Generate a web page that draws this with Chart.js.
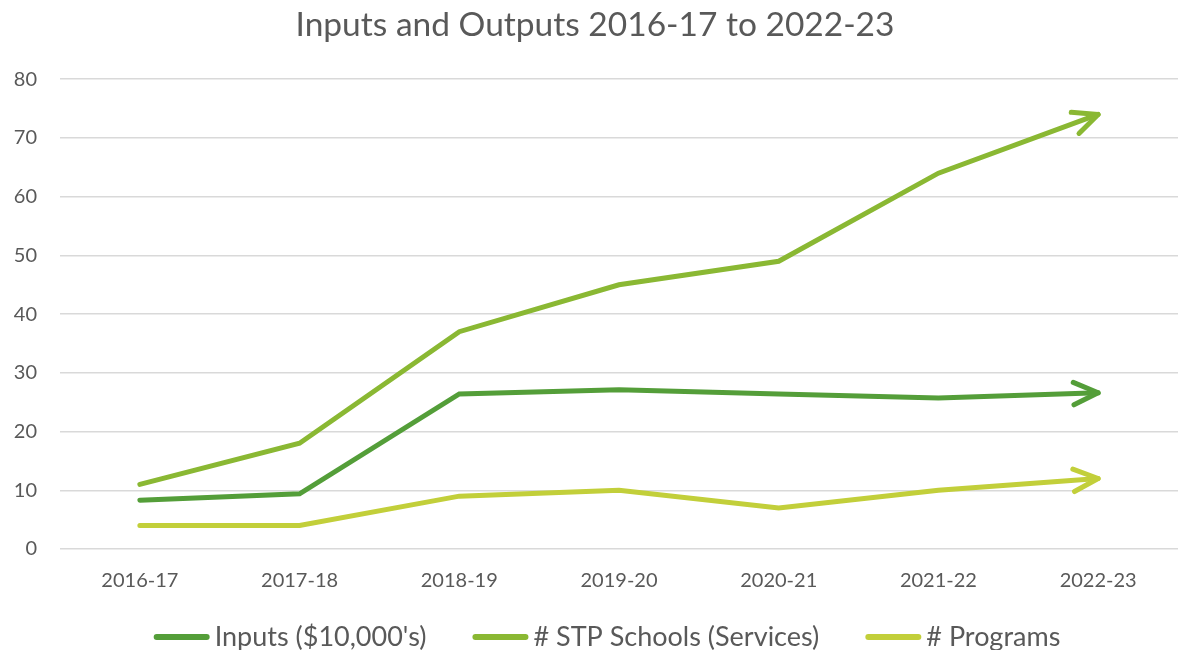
<!DOCTYPE html>
<html>
<head>
<meta charset="utf-8">
<script src="https://cdn.jsdelivr.net/npm/chart.js@4.4.0/dist/chart.umd.min.js"></script>
<style>
html,body{margin:0;padding:0;background:#fff;overflow:hidden;}
#wrap{width:1178px;height:650px;position:relative;}
</style>
</head>
<body>
<div id="wrap"><canvas id="c"></canvas></div>
<script>
const categories = ['2016-17','2017-18','2018-19','2019-20','2020-21','2021-22','2022-23'];
const inputs = [8.3, 9.4, 26.4, 27.1, 26.4, 25.7, 26.6];
const stpSchools = [11, 18, 37, 45, 49, 64, 74];
const programs = [4, 4, 9, 10, 7, 10, 12];
const seriesNames = ["Inputs ($10,000's)", '# STP Schools (Services)', '# Programs'];
const colors = ['#549E39', '#8AB833', '#C2CF3A'];
const yTicks = {min: 0, max: 80, step: 10};
const titleText = 'Inputs and Outputs 2016-17 to 2022-23';

const FONT = 'Lato, Calibri, sans-serif';
const TXT = '#595959';

const arrowPlugin = {
  id: 'arrows',
  afterDatasetsDraw(chart) {
    const ctx = chart.ctx;
    chart.data.datasets.forEach((ds, i) => {
      const pts = chart.getDatasetMeta(i).data;
      if (pts.length < 2) return;
      const a = pts[pts.length - 2], b = pts[pts.length - 1];
      const ang = Math.atan2(b.y - a.y, b.x - a.x);
      const len = 27, spread = 0.43;
      ctx.save();
      ctx.strokeStyle = ds.borderColor;
      ctx.lineWidth = 5;
      ctx.lineCap = 'round';
      ctx.lineJoin = 'round';
      ctx.beginPath();
      ctx.moveTo(b.x - len * Math.cos(ang - spread), b.y - len * Math.sin(ang - spread));
      ctx.lineTo(b.x, b.y);
      ctx.lineTo(b.x - len * Math.cos(ang + spread), b.y - len * Math.sin(ang + spread));
      ctx.stroke();
      ctx.restore();
    });
  }
};

// Bottom legend drawn in the style of the source (line swatch followed closely by the label)
const legendPlugin = {
  id: 'lineLegend',
  afterDraw(chart) {
    const ctx = chart.ctx;
    const sw = 56, swGap = 5, itemGap = 46, y = 637;
    ctx.save();
    ctx.font = '27px ' + FONT;
    ctx.textBaseline = 'middle';
    ctx.textAlign = 'left';
    const items = chart.data.datasets.map(ds => ({text: ds.label, color: ds.borderColor, w: ctx.measureText(ds.label).width}));
    const total = items.reduce((s, it) => s + sw + swGap + it.w, 0) + itemGap * (items.length - 1);
    let x = 607 - total / 2;
    items.forEach(it => {
      ctx.strokeStyle = it.color;
      ctx.lineWidth = 6;
      ctx.lineCap = 'round';
      ctx.beginPath();
      ctx.moveTo(x + 3, y);
      ctx.lineTo(x + sw - 3, y);
      ctx.stroke();
      ctx.fillStyle = TXT;
      ctx.fillText(it.text, x + sw + swGap, y);
      x += sw + swGap + it.w + itemGap;
    });
    ctx.restore();
  }
};

const datasets = [inputs, stpSchools, programs].map((d, i) => ({
  label: seriesNames[i],
  data: d,
  borderColor: colors[i],
  backgroundColor: colors[i],
  borderWidth: 5,
  borderCapStyle: 'round',
  borderJoinStyle: 'miter',
  pointRadius: 0,
  tension: 0,
  fill: false
}));

new Chart(document.getElementById('c'), {
  type: 'line',
  data: {labels: categories, datasets},
  options: {
    responsive: true,
    maintainAspectRatio: false,
    animation: false,
    layout: {padding: {left: 10, right: -2, top: 0, bottom: 37}},
    plugins: {
      title: {
        display: true,
        text: titleText,
        color: TXT,
        font: {family: FONT, size: 33.5, weight: 'normal'},
        padding: {top: 5, bottom: 34}
      },
      legend: {display: false},
      tooltip: {enabled: false}
    },
    scales: {
      x: {
        offset: true,
        grid: {display: false, drawTicks: false},
        border: {display: false},
        ticks: {color: TXT, font: {family: FONT, size: 20}, padding: 20, maxRotation: 0}
      },
      y: {
        min: yTicks.min,
        max: yTicks.max,
        grid: {color: '#D9D9D9', lineWidth: 1.5, drawTicks: false},
        border: {display: false},
        ticks: {stepSize: yTicks.step, color: TXT, font: {family: FONT, size: 20}, padding: 23},
        afterFit(scale) { scale.width = 50; }
      }
    }
  },
  plugins: [arrowPlugin, legendPlugin]
});
</script>
</body>
</html>
